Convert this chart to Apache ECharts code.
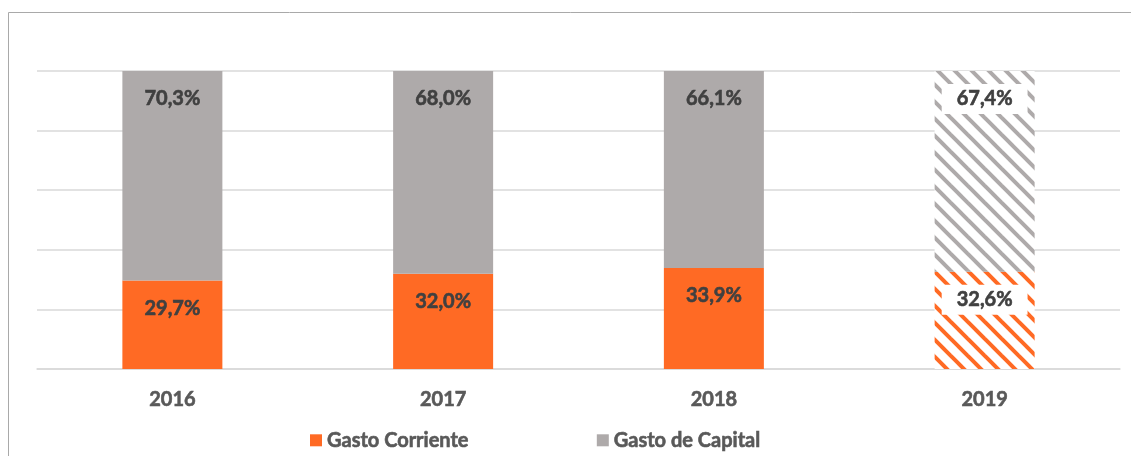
<!DOCTYPE html>
<html>
<head>
<meta charset="utf-8">
<script src="https://cdn.jsdelivr.net/npm/echarts@6/dist/echarts.min.js"></script>
<style>
  html, body { margin: 0; padding: 0; background: #fff; }
  #chart { width: 1131px; height: 456px; }
</style>
</head>
<body>
<div id="chart"></div>
<script>
// datos del grafico
const years = ['2016', '2017', '2018', '2019'];
const gastoCorriente = [29.7, 32.0, 33.9, 32.6];
const gastoCapital = [70.3, 68.0, 66.1, 67.4];
const projectedYear = '2019'; // barra con trama rayada

const ORANGE = '#FF6A24';
const GREY = '#AEAAAA';
const FONT = 'Lato';

// trama de rayas diagonales para el ultimo anio
function stripes(color) {
  const size = 17;
  const c = document.createElement('canvas');
  c.width = size;
  c.height = size;
  const ctx = c.getContext('2d');
  ctx.fillStyle = '#fff';
  ctx.fillRect(0, 0, size, size);
  ctx.strokeStyle = color;
  ctx.lineWidth = 4;
  [-size, 0, size].forEach(k => {
    ctx.beginPath();
    ctx.moveTo(k - 2, -2);
    ctx.lineTo(k + size + 2, size + 2);
    ctx.stroke();
  });
  return { image: c, repeat: 'repeat' };
}

const pct = v => v.toFixed(1).replace('.', ',') + '%';

function buildData(values, color) {
  return values.map((v, i) => {
    if (years[i] !== projectedYear) return v;
    return {
      value: v,
      itemStyle: { color: stripes(color) },
      label: {
        backgroundColor: '#fff',
        padding: [5, 15],
        distance: 13
      }
    };
  });
}

// texto en negrita algo mas grueso, como en el original
const boldText = color => ({
  color: color,
  fontFamily: FONT,
  fontWeight: 'bold',
  fontSize: 20,
  textBorderColor: color,
  textBorderWidth: 0.6
});

const labelStyle = Object.assign(boldText('#404040'), {
  show: true,
  position: 'insideTop',
  distance: 18,
  lineHeight: 20,
  formatter: p => pct(p.value)
});

const chart = echarts.init(document.getElementById('chart'));

chart.setOption({
  animation: false,
  graphic: [{
    type: 'rect',
    shape: { x: 8.5, y: 12.5, width: 1200, height: 500 },
    style: { fill: 'none', stroke: '#a9a9a9', lineWidth: 1 },
    silent: true
  }],
  grid: { left: 37, right: 11, top: 71, bottom: 87 },
  legend: {
    left: 305,
    top: 425,
    itemWidth: 12,
    itemHeight: 12,
    itemGap: 128,
    icon: 'rect',
    textStyle: boldText('#595959'),
    data: [
      { name: 'Gasto Corriente', itemStyle: { color: ORANGE } },
      { name: 'Gasto de Capital', itemStyle: { color: GREY } }
    ]
  },
  xAxis: {
    type: 'category',
    data: years,
    axisLine: { lineStyle: { color: '#D9D9D9', width: 1.5 } },
    axisTick: { show: false },
    axisLabel: Object.assign(boldText('#595959'), { margin: 21 })
  },
  yAxis: {
    type: 'value',
    min: 0,
    max: 100,
    interval: 20,
    axisLabel: { show: false },
    axisLine: { show: false },
    axisTick: { show: false },
    splitLine: { lineStyle: { color: '#D9D9D9', width: 1.5 } }
  },
  series: [
    {
      name: 'Gasto Corriente',
      type: 'bar',
      stack: 'total',
      barWidth: 100,
      itemStyle: { color: ORANGE },
      label: labelStyle,
      data: buildData(gastoCorriente, ORANGE)
    },
    {
      name: 'Gasto de Capital',
      type: 'bar',
      stack: 'total',
      barWidth: 100,
      itemStyle: { color: GREY },
      label: labelStyle,
      data: buildData(gastoCapital, GREY)
    }
  ]
});
</script>
</body>
</html>
